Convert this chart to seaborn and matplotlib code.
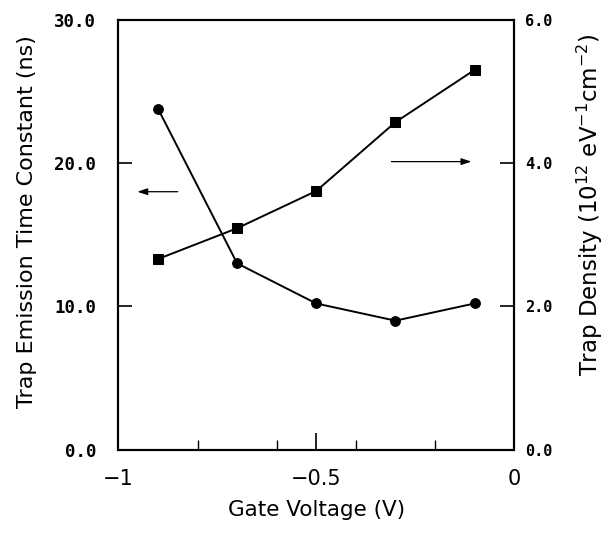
import matplotlib
matplotlib.use("Agg")
import matplotlib.pyplot as plt
import seaborn as sns
import pandas as pd
from matplotlib.ticker import FixedLocator, FixedFormatter

sns.set_style("ticks")
plt.rcParams['font.family'] = ['DejaVu Sans']
plt.rcParams['text.color'] = 'black'
plt.rcParams['axes.labelcolor'] = 'black'
plt.rcParams['xtick.color'] = 'black'
plt.rcParams['ytick.color'] = 'black'

gate_voltage = [-0.9, -0.7, -0.5, -0.3, -0.1]
emission_time = [23.8, 13.0, 10.2, 9.0, 10.2]
trap_density = [2.66, 3.09, 3.61, 4.57, 5.30]

x_ticks = [-1, -0.5, 0]
x_ticklabels = ["\u22121", "\u22120.5", "0"]
left_ticks = [0, 10, 20, 30]
left_ticklabels = ["0.0", "10.0", "20.0", "30.0"]
right_ticks = [0, 2, 4, 6]
right_ticklabels = ["0.0", "2.0", "4.0", "6.0"]

df = pd.DataFrame({"V": gate_voltage, "tau": emission_time, "D": trap_density})

fig = plt.figure(figsize=(6.07, 5.34), dpi=100)
ax = fig.add_axes([0.195, 0.158, 0.652, 0.805])
ax2 = ax.twinx()

sns.lineplot(data=df, x="V", y="tau", ax=ax, color="black", marker="o",
             markersize=7, linewidth=1.4, markeredgecolor="black")
sns.lineplot(data=df, x="V", y="D", ax=ax2, color="black", marker="s",
             markersize=7.5, linewidth=1.4, markeredgecolor="black")

ax.set_xlim(-1, 0)
ax.set_ylim(0, 30)
ax2.set_ylim(0, 6)

ax.xaxis.set_major_locator(FixedLocator(x_ticks))
ax.xaxis.set_major_formatter(FixedFormatter(x_ticklabels))
ax.xaxis.set_minor_locator(FixedLocator([-0.8, -0.6, -0.4, -0.2]))
ax.yaxis.set_major_locator(FixedLocator(left_ticks))
ax.yaxis.set_major_formatter(FixedFormatter(left_ticklabels))
ax2.yaxis.set_major_locator(FixedLocator(right_ticks))
ax2.yaxis.set_major_formatter(FixedFormatter(right_ticklabels))

ax.tick_params(axis="x", which="major", direction="in", length=12, width=1.2,
               labelsize=15, pad=14, top=False)
ax.tick_params(axis="x", which="minor", direction="in", length=7, width=1.0, top=False)
ax.tick_params(axis="y", which="major", direction="in", length=10, width=1.2,
               labelsize=12.5, pad=16)
ax2.tick_params(axis="y", which="major", direction="in", length=10, width=1.2,
                labelsize=11, pad=8)
for lab in ax.get_yticklabels():
    lab.set_fontfamily("DejaVu Sans Mono")
    lab.set_fontweight("bold")
for lab in ax2.get_yticklabels():
    lab.set_fontfamily("DejaVu Sans Mono")
    lab.set_fontweight("bold")

ax.set_xlabel("Gate Voltage (V)", fontsize=15.5, labelpad=8)
ax.set_ylabel("Trap Emission Time Constant (ns)", fontsize=16, labelpad=12)
ax2.set_ylabel(r"Trap Density ($10^{12}$ eV$^{-1}$cm$^{-2}$)", fontsize=16.5, labelpad=16)
ax.yaxis.label.set_y(0.53)
ax2.yaxis.label.set_y(0.57)

for a in (ax, ax2):
    for s in a.spines.values():
        s.set_linewidth(1.5)
        s.set_color("black")

arrow_kw = dict(arrowstyle="-|>,head_length=0.6,head_width=0.2", color="black",
                lw=0.9, shrinkA=0, shrinkB=0)
ax.annotate("", xy=(-0.952, 18.0), xytext=(-0.85, 18.0), arrowprops=arrow_kw)
ax.annotate("", xy=(-0.108, 20.1), xytext=(-0.31, 20.1), arrowprops=arrow_kw)

fig.savefig("out.png", dpi=100)
